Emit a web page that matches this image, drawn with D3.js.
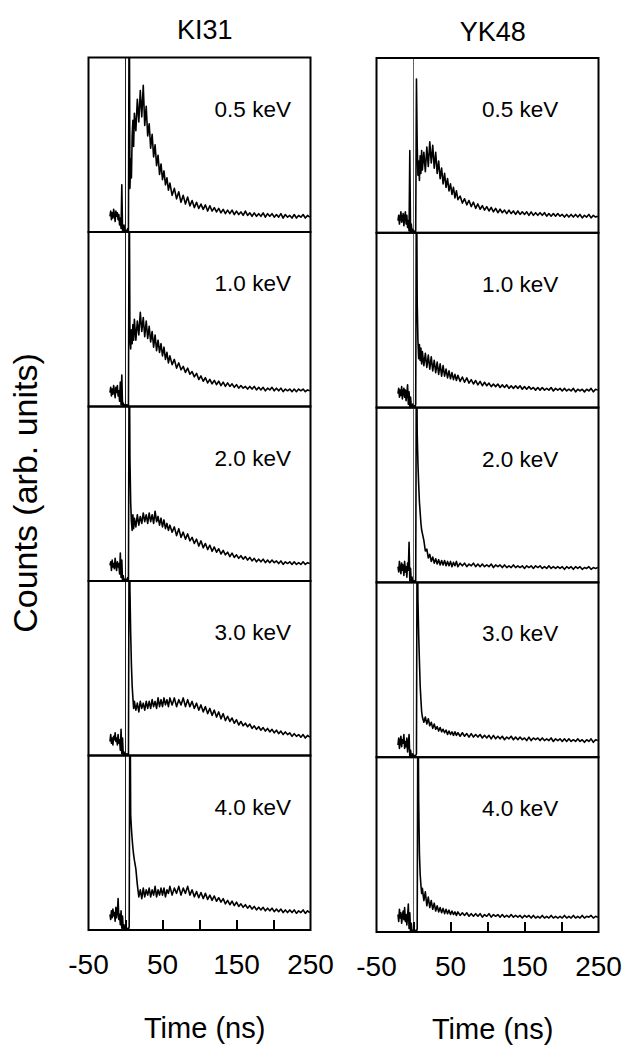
<!DOCTYPE html>
<meta charset="utf-8">

<!-- Load d3.js -->
<script src="https://d3js.org/d3.v7.min.js"></script>

<style>
  body { margin: 0; background: #fff; }
  text { font-family: "Liberation Sans", Arial, sans-serif; fill: #000; }
</style>

<div id="chart"></div>

<script>
// ---- data (values in % of panel height, arb. units) ----
var samples = ["KI31", "YK48"];
var energies = ["0.5 keV", "1.0 keV", "2.0 keV", "3.0 keV", "4.0 keV"];
var tickValues = [0, 50, 100, 150, 200];
var tickLabels = [-50, 50, 150, 250];

var times = [
  -21,-20,-19,-18,-17,-16,-15,-14,-13, -12,-11,-10,-9,-8,-7,-6,-5,-4, -3,-2,-1,
  0,1,2,3,4,5,6,7,8,9,10,11,12,
  14,16,18,20,22,24,26,28,30, 32,34,36,38,40,42,44,46,48, 50,52,54,56,58,60,
  63,66,69,72,75,78,81,84,87,
  90,93,96,99,102,105,108,111,114,
  117,120,123,126,129,132,135,138,141,
  144,147,150,153,156,159,162,165,168,
  171,174,177,180,183,186,189,192,195,
  198,201,204,207,210,213,216,219,222,
  225,228,231,234,237,240,243,246,249
];

var ki31_05 = [
  9,12,7,11,8,13,10,6,12, 9,11,7,10,4,8,2,27,1, 0,4,0,
  0,1,0,2,1,150,25,42,31,55,64,49,68,
  58,76,63,81,66,84,61,72,55, 62,48,56,43,50,38,44,33,39, 30,35,27,31,24,28,
  21,25,19,23,17,21,16,20,15,
  18,14,17,13.5,16,13,15.5,12,15,
  12,14,11.5,13.5,11,13,10.5,12.5,10.5,
  12.5,10,12,10,11.5,9.5,12,9.5,11,
  9,11,9,10.5,9,11,8.5,10.5,9,
  10.5,8.5,10,8.5,10.5,8,10,8.5,9.5,
  8,10,8,9.5,8.5,10,8,9.5,8.5
];
var ki31_10 = [
  8,11,6,10,7,12,9,5,11, 8,12,6,9,3,14,1,18,0, 2,0,1,
  0,1,0,1,0,140,39,33,44,36,47,38,50,
  38,49,41,54,43,51,40,49,39, 46,37,43,34,41,32,38,31,36, 29,34,27,31,25,29,
  24,27,22,25,21,23,19.5,22,18.5,
  20,17,19,15.5,17.5,14.5,16.5,13.5,15.5,
  13,15,12.5,14.5,12,14,11.5,13.5,11.5,
  13,11,12.5,10.5,12,10.5,11.5,10,11.5,
  10,11.5,9.5,11,9.5,11,9,10.5,9.5,
  11,9,10.5,9,10.5,8.5,10,9,10,
  8.5,10,8.5,10,9,10,8.5,9.5,9
];
var ki31_20 = [
  9,11,6,12,8,10,7,13,9, 6,11,8,10,4,16,2,12,0, 3,0,1,
  0,1,0,2,1,150,70,45,34,29,38,30,36,
  31,38,32,37,33,39,34,38,33, 39,34,38,33,40,34,37,32,36, 31,35,30,33,29,32,
  28,31,26,30,25,28,24,27,23,
  25,21.5,24,20,23,19,21.5,18,20.5,
  17,19.5,16.5,18.5,15.5,17.5,15,16.5,14,
  16,13.5,15,13,14.5,12.5,14,12,13.5,
  11.5,13,11,12.5,11,12.5,10.5,12,10.5,
  12,10.5,11.5,10,11.5,9.5,11,10,11,
  9.5,11,9.5,10.5,9.5,11,9.5,10.5,10
];
var ki31_30 = [
  8,12,7,10,6,11,9,13,8, 10,6,12,7,9,3,15,1,10, 0,2,0,
  0,1,0,1,0,150,95,70,52,40,33,27,31,
  26,30,25,31,27,30,26,31,27, 31,27,32,28,31,27,33,28,32, 28,33,29,32,28,33,
  29,33,28,32,29,33,28,32,28,
  31,27,30,26,29,25,28,24,27,
  23,26,22,25,21,24,20,22.5,19.5,
  21.5,18.5,20.5,17.5,19.5,17,18.5,16.5,18,
  15.5,17,15,16.5,14.5,16,14,15.5,13.5,
  15,13,14.5,12.5,14,12,13.5,12,13,
  11,12.5,11,12,10.5,12,10,11.5,10.5
];
var ki31_40 = [
  9,6,11,7,12,8,10,5,13, 7,10,18,6,9,3,11,1,8, 0,3,0,
  0,1,0,1,0,2,150,66,58,52,47,43,40,
  35,26,19,23,18,24,19,23,20, 24,19,23,20,25,19,23,20,24, 20,24,19,23,21,25,
  20,24,21,25,20,24,21,25,20,
  23,19,22,18.5,21.5,18,21,17.5,20,
  17,19.5,16.5,18.5,16,18,15,17,14.5,
  16.5,14,16,13.5,15,13,14.5,12.5,14,
  12,13.5,11.5,13,11.5,13,11,12.5,11,
  12.5,10.5,12,10.5,12,10,11.5,10,11.5,
  10,11.5,9.5,11,10,11.5,9.5,11,10
];

var yk48_05 = [
  7,10,5,9,12,6,8,11,4, 9,12,5,10,3,7,1,47,0, 5,0,2,
  0,1,0,1,88,50,33,41,30,44,34,47,36,
  46,35,49,38,52,40,50,37,46, 34,41,31,37,28,34,26,31,24, 28,22,26,20,24,19,
  21,17,19.5,16,18.5,15,17.5,14,16.5,
  13.5,15.5,13,15,12.5,14.5,12,14,11.5,
  13.5,11.5,13,11,13,11,12.5,10.5,12.5,
  10.5,12,10.5,12,10,12,10,11.5,10,
  11.5,10,11.5,9.5,11,9.5,11,9.5,11,
  9.5,10.5,9,10.5,9,10.5,9,10.5,9,
  10.5,8.5,10,9,10.5,8.5,10,9,9.5
];
var yk48_10 = [
  8,11,6,10,7,12,5,9,11, 6,10,4,8,13,2,9,0,6, 1,0,2,
  0,1,0,2,150,60,38,28,36,27,34,25,32,
  24,31,23,30,22,29,21,27,20, 26,19,25,18,24,18,22,17,21, 16.5,20,16,19,15.5,18.5,
  15,17.5,14.5,17,14,16,13.5,15.5,13,
  15,12.5,14.5,12.5,14,12,13.5,12,13.5,
  11.5,13,11.5,13,11,12.5,11,12.5,11,
  12.5,10.5,12,10.5,12,10.5,11.5,10,11.5,
  10,11.5,10,11,10,11.5,9.5,11,10,
  11,9.5,11,9.5,10.5,9.5,11,9,10.5,
  9.5,10.5,9,10.5,9.5,11,9,10.5,10
];
var yk48_20 = [
  9,6,12,8,5,11,7,10,4, 12,6,9,3,11,7,23,1,8, 0,3,0,
  0,1,0,1,150,85,68,56,46,40,34,30,28,
  24,18,19,14,16,12,14.5,11,13.5, 10.5,13,10,12.5,10,12.5,9.5,12,9.5, 12,9,11.5,9.5,12,9,
  11,9.5,11,9,10.5,9.5,11,9,10.5,
  9,10.5,9,10,9,10.5,8.5,10,9,
  10,8.5,10,8.5,9.5,8.5,10,8.5,9.5,
  8.5,9.5,8,9.5,8.5,9.5,8,9.5,8.5,
  9.5,8,9,8,9.5,8,9,8,9,
  8,9,7.5,9,8,9,7.5,9,8,
  9,7.5,8.5,8,9,7.5,8.5,8,8.5
];
var yk48_30 = [
  7,11,5,9,12,6,10,8,13, 5,9,6,11,3,8,13,0,4, 1,0,2,
  0,1,0,1,2,150,90,70,55,41,33,26,23,
  20,23,19,22,18,20,16.5,19,16, 17.5,15,17,14.5,16,14,15.5,13,15, 13,14.5,12.5,14.5,12.5,14,
  12,14,12,13.5,11.5,13.5,11.5,13,11.5,
  13,11,12.5,11,12.5,10.5,12.5,10.5,12,
  10.5,12,10,11.5,10.5,12,10,11.5,10,
  11.5,10,11,9.5,11.5,9.5,11,10,11,
  9.5,11,9.5,10.5,9.5,11,9,10.5,9.5,
  10.5,9,10.5,9,10.5,9,10,9,10.5,
  9,10,8.5,10,9,10.5,8.5,10,9.5
];
var yk48_40 = [
  10,6,13,8,11,5,9,12,7, 14,6,10,4,9,16,2,11,0, 5,0,1,
  0,1,0,1,0,2,150,75,45,33,27,22,25,
  18,23,15,20,14,18,13,16.5,12, 15,11.5,14,11,13.5,10.5,13,10.5,12.5, 10,12,10,11.5,9.5,11.5,
  9.5,11,9.5,11,9,10.5,9,10.5,9,
  10.5,8.5,10,9,10.5,8.5,10,9,10,
  8.5,10,8.5,9.5,8.5,10,8.5,9.5,8.5,
  9.5,8,9.5,8.5,9.5,8,9.5,8,9,
  8,9.5,8,9,8,9.5,8,9,8,
  9,8,9.5,8,9,8,9.5,8,9,
  8,9.5,8,9,8.5,9.5,8,9,8.5
];

var series = [
  [ki31_05, ki31_10, ki31_20, ki31_30, ki31_40],
  [yk48_05, yk48_10, yk48_20, yk48_30, yk48_40]
];

// ---- layout ----
var width = 627, height = 1046;
var cols = [
  {left: 88.5, right: 310.5, top: 57.5, bottom: 930, labelT: 172, titleT: 107},
  {left: 376.5, right: 598.5, top: 58, bottom: 932, labelT: 144, titleT: 107}
];

var svg = d3.select("#chart")
  .append("svg")
    .attr("width", width)
    .attr("height", height);

cols.forEach(function(c, ci) {
  var x = d3.scaleLinear().domain([-50, 250]).range([c.left, c.right]);
  var ph = (c.bottom - c.top) / energies.length;

  // column title
  svg.append("text")
    .attr("x", x(c.titleT))
    .attr("y", c.top - 19 + ci * 2)
    .attr("text-anchor", "middle")
    .style("font-size", "27px")
    .text(samples[ci]);

  energies.forEach(function(e, ei) {
    var top = c.top + ei * ph, bottom = top + ph;
    var y = d3.scaleLinear().domain([0, 100]).range([bottom, top]);
    var id = "clip" + ci + "_" + ei;

    svg.append("clipPath").attr("id", id)
      .append("rect")
        .attr("x", c.left).attr("y", top)
        .attr("width", c.right - c.left).attr("height", ph);

    var g = svg.append("g").attr("clip-path", "url(#" + id + ")");

    // zero line
    g.append("line")
      .attr("x1", x(0)).attr("x2", x(0))
      .attr("y1", top).attr("y2", bottom)
      .style("stroke", ci == 0 ? "#222" : "#666")
      .style("stroke-width", 1);

    var vals = series[ci][ei];
    var pts = times.map(function(t, i) { return [t, vals[i]]; })
      .filter(function(d) { return d[1] != null; });

    var line = d3.line()
      .x(function(d) { return x(d[0]); })
      .y(function(d) { return y(d[1]); });

    g.append("path")
      .datum(pts)
      .attr("d", line)
      .style("fill", "none")
      .style("stroke", "#000")
      .style("stroke-width", 1.6)
      .style("stroke-linejoin", "round");

    // frame
    svg.append("rect")
      .attr("x", c.left).attr("y", top)
      .attr("width", c.right - c.left).attr("height", ph)
      .style("fill", "none")
      .style("stroke", "#000")
      .style("stroke-width", 2);

    svg.append("text")
      .attr("x", x(c.labelT))
      .attr("y", top + 59)
      .attr("text-anchor", "middle")
      .style("font-size", "22.5px")
      .text(e);
  });

  // bottom axis: inside ticks
  var axis = d3.axisBottom(x).tickValues(tickValues).tickSize(-10).tickFormat("");
  var ag = svg.append("g")
    .attr("transform", "translate(0," + c.bottom + ")")
    .call(axis);
  ag.select(".domain").remove();
  ag.selectAll(".tick line").style("stroke", "#000").style("stroke-width", 2);

  svg.selectAll(null)
    .data(tickLabels)
    .enter()
    .append("text")
      .attr("x", function(d) { return x(d); })
      .attr("y", c.bottom + 44)
      .attr("text-anchor", "middle")
      .style("font-size", "28px")
      .text(function(d) { return d; });

  svg.append("text")
    .attr("x", x(c.titleT))
    .attr("y", 1038 + ci)
    .attr("text-anchor", "middle")
    .style("font-size", "29px")
    .text("Time (ns)");
});

svg.append("text")
  .attr("transform", "translate(37,493) rotate(-90)")
  .attr("text-anchor", "middle")
  .style("font-size", "34px")
  .text("Counts (arb. units)");
</script>
